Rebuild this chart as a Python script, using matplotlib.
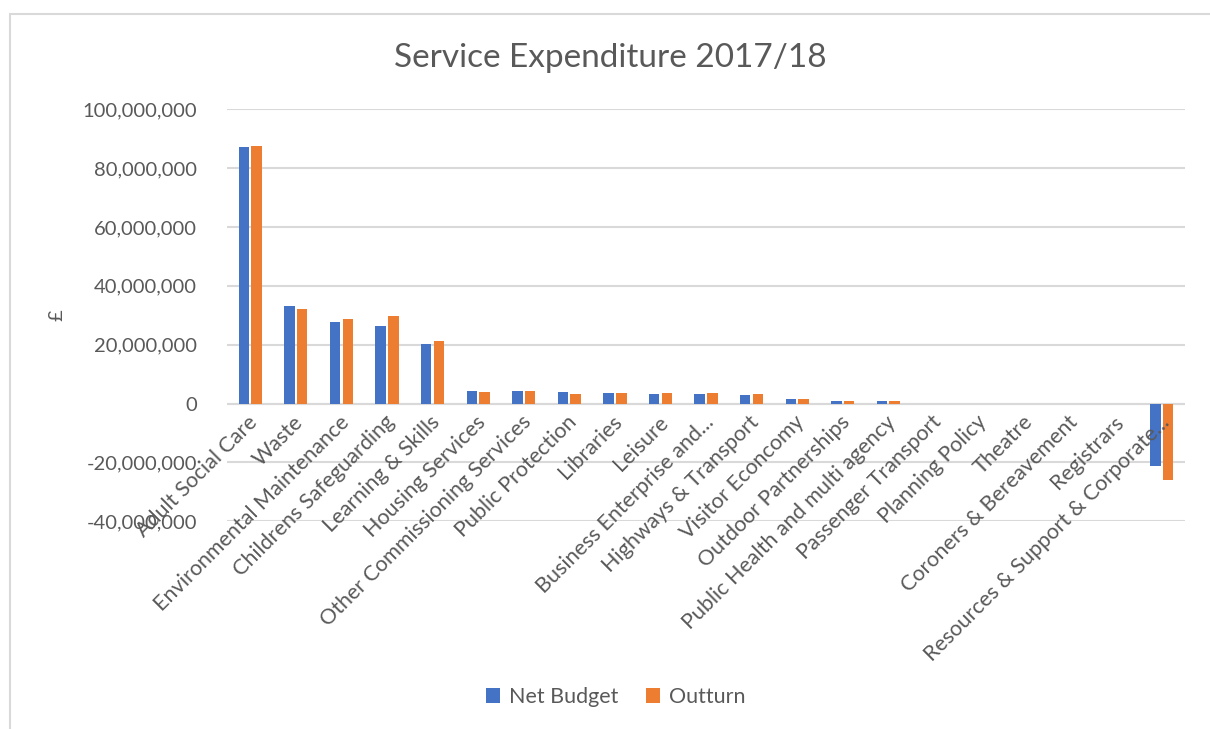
import matplotlib
matplotlib.use('Agg')
import matplotlib.pyplot as plt
import matplotlib.transforms as mtransforms
from matplotlib.patches import Rectangle
from matplotlib.ticker import FuncFormatter
import numpy as np

plt.rcParams['font.family'] = ['Lato', 'DejaVu Sans']

services = ['Adult Social Care', 'Waste', 'Environmental Maintenance',
            'Childrens Safeguarding', 'Learning & Skills', 'Housing Services',
            'Other Commissioning Services', 'Public Protection', 'Libraries',
            'Leisure', 'Business Enterprise and...', 'Highways & Transport',
            'Visitor Econcomy', 'Outdoor Partnerships',
            'Public Health and multi agency', 'Passenger Transport',
            'Planning Policy', 'Theatre', 'Coroners & Bereavement', 'Registrars',
            'Resources & Support & Corporate...']
# values in millions of pounds
net_budget = [87.3, 33.1, 27.6, 26.3, 20.1, 4.4, 4.4, 4.0, 3.7, 3.2, 3.2, 2.8,
              1.5, 1.0, 1.0, 0, 0, 0, 0, 0, -21.1]
outturn = [87.6, 32.2, 28.8, 29.7, 21.3, 4.0, 4.4, 3.2, 3.7, 3.7, 3.7, 3.2,
           1.5, 1.0, 1.0, 0, 0, 0, 0, 0, -26.0]

blue = '#4472c4'
orange = '#ed7d31'
grey = '#595959'

net_budget = np.array(net_budget) * 1e6
outturn = np.array(outturn) * 1e6
x = np.arange(len(services))

fig = plt.figure(figsize=(12.1, 7.29), dpi=100)
ax = fig.add_axes([0.188, 0.285, 0.791, 0.565])

# chart border like the excel frame
fig.patches.append(Rectangle((10 / 1210, -0.01), 1.02, 1 - 14 / 729 + 0.01,
                             transform=fig.transFigure, fill=False,
                             edgecolor='#d9d9d9', linewidth=1.5))

w = 0.23
ax.bar(x - 0.14, net_budget, w, color=blue, label='Net Budget', zorder=3)
ax.bar(x + 0.14, outturn, w, color=orange, label='Outturn', zorder=3)

ax.set_xlim(-0.5, len(services) - 0.5)
ax.set_ylim(-40e6, 100e6)
ax.set_yticks(np.arange(-40e6, 100e6 + 1, 20e6))
ax.yaxis.set_major_formatter(FuncFormatter(lambda v, p: '{:,.0f}'.format(v)))
ax.grid(axis='y', color='#d9d9d9', linewidth=1.5, zorder=0)
ax.tick_params(axis='y', length=0, labelsize=14.5, colors=grey, pad=22)
ax.set_xticks([])
for s in ax.spines.values():
    s.set_visible(False)
ax.axhline(0, color='#d9d9d9', linewidth=1.5, zorder=1)

# category labels sit next to the zero line
off = mtransforms.offset_copy(ax.transData, fig=fig, x=-2, y=-6, units='points')
for i, name in enumerate(services):
    ax.text(i, 0, name, transform=off, rotation=45, ha='right', va='top',
            rotation_mode='anchor', fontsize=15.5, color=grey)

ax.set_ylabel('£', fontsize=14.5, color=grey, labelpad=12)
fig.text(0.504, 0.92, 'Service Expenditure 2017/18', ha='center', va='center',
         fontsize=24, color=grey)

fig.legend(loc='center', bbox_to_anchor=(0.509, 0.044), ncol=2, frameon=False,
           fontsize=15.5, labelcolor=grey, handlelength=0.65, handleheight=0.65,
           columnspacing=1.3, handletextpad=0.4)

fig.savefig('out.png', dpi=100)
